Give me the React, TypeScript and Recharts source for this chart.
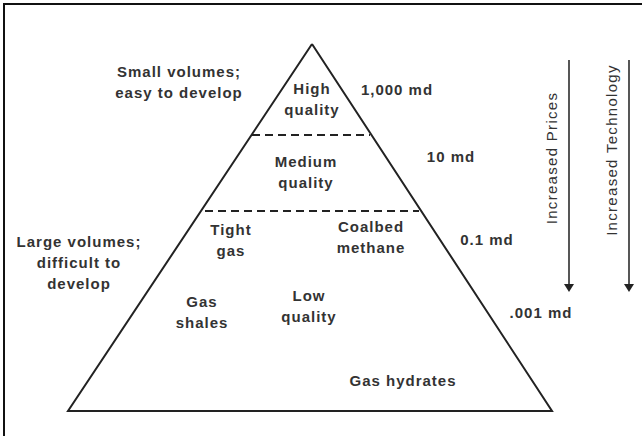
import { ComposedChart, Scatter, XAxis, YAxis, ReferenceLine } from 'recharts'

// diagram units = pixels of the 642x436 figure
const W = 642
const H = 436

const triangle = [
  { x: 312, y: 44 },
  { x: 68, y: 411 },
  { x: 552, y: 411 },
  { x: 312, y: 44 },
]

const tierBounds = [
  { y: 135, x1: 252, x2: 370 },
  { y: 211, x1: 205, x2: 419 },
]

const arrows = [
  { x: 569, y1: 60, y2: 292, label: 'Increased Prices', ly: 158 },
  { x: 629, y1: 60, y2: 292, label: 'Increased Technology', ly: 150 },
]

const labels = [
  { x: 179, y: 72, lines: ['Small volumes;', 'easy to develop'] },
  { x: 312, y: 89, lines: ['High', 'quality'] },
  { x: 397, y: 90, lines: ['1,000 md'] },
  { x: 306, y: 162, lines: ['Medium', 'quality'] },
  { x: 451, y: 157, lines: ['10 md'] },
  { x: 231, y: 230, lines: ['Tight', 'gas'] },
  { x: 371, y: 227, lines: ['Coalbed', 'methane'] },
  { x: 487, y: 240, lines: ['0.1 md'] },
  { x: 79, y: 242, lines: ['Large volumes;', 'difficult to', 'develop'] },
  { x: 202, y: 302, lines: ['Gas', 'shales'] },
  { x: 309, y: 296, lines: ['Low', 'quality'] },
  { x: 541, y: 313, lines: ['.001 md'] },
  { x: 403, y: 381, lines: ['Gas hydrates'] },
]

const FONT = 'Liberation Sans, Arial, sans-serif'
const INK = '#222'
const TEXT = '#333'

const LabelShape = (props: any) => {
  const { cx, cy, payload } = props
  return (
    <text x={cx} y={cy} textAnchor="middle" fontFamily={FONT} fontSize={15} fontWeight="bold" letterSpacing={1} fill={TEXT}>
      {payload.lines.map((l: string, i: number) => (
        <tspan key={i} x={cx} dy={i === 0 ? 5 : 21}>{l}</tspan>
      ))}
    </text>
  )
}

const ArrowLabel = (props: any) => {
  const { cx, cy, payload } = props
  const tx = cx - 18
  return (
    <text x={tx} y={cy} transform={`rotate(-90 ${tx} ${cy})`} textAnchor="middle" dominantBaseline="central"
      fontFamily={FONT} fontSize={15} letterSpacing={1.3} fill={TEXT}>{payload.label}</text>
  )
}

const ArrowHead = (props: any) => {
  const { cx, cy } = props
  return <path d={`M${cx - 5},${cy - 8} L${cx + 5},${cy - 8} L${cx},${cy} Z`} fill={INK} />
}

const Empty = () => <g />

export default function App() {
  return (
    <div style={{ position: 'absolute', left: 0, top: 0, width: W, height: H, background: '#fff', overflow: 'hidden' }}>
      <div style={{ position: 'absolute', left: 3, top: 3, width: W + 20, height: H + 20, borderLeft: '2px solid #111', borderTop: '2px solid #111', boxSizing: 'border-box' }} />
      <ComposedChart width={W} height={H} margin={{ top: 0, right: 0, bottom: 0, left: 0 }} style={{ position: 'absolute', left: 0, top: 0 }}>
        <XAxis type="number" dataKey="x" domain={[0, W]} hide />
        <YAxis type="number" dataKey="y" domain={[0, H]} reversed hide />
        <Scatter data={triangle} line={{ stroke: INK, strokeWidth: 2 }} shape={Empty} isAnimationActive={false} />
        {tierBounds.map((b, i) => (
          <ReferenceLine key={i} segment={[{ x: b.x1, y: b.y }, { x: b.x2, y: b.y }]} stroke={INK} strokeWidth={2} strokeDasharray="8 5" />
        ))}
        {arrows.map((a, i) => (
          <ReferenceLine key={'a' + i} segment={[{ x: a.x, y: a.y1 }, { x: a.x, y: a.y2 - 6 }]} stroke="#444" strokeWidth={1.8} />
        ))}
        <Scatter data={arrows.map(a => ({ x: a.x, y: a.y2 }))} shape={ArrowHead} isAnimationActive={false} />
        <Scatter data={arrows.map(a => ({ x: a.x, y: a.ly, label: a.label }))} shape={ArrowLabel} isAnimationActive={false} />
        <Scatter data={labels} shape={LabelShape} isAnimationActive={false} />
      </ComposedChart>
    </div>
  )
}
